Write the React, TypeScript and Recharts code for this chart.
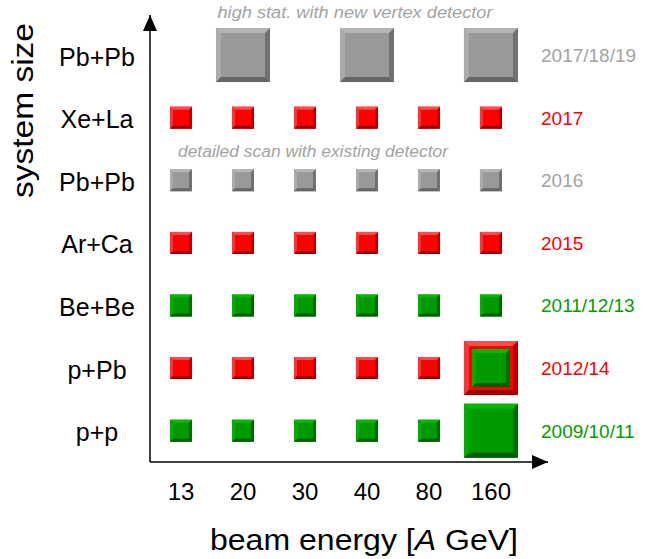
import { ScatterChart, Scatter, XAxis, YAxis, ReferenceDot, Customized } from 'recharts';

const energies = ['13', '20', '30', '40', '80', '160'];
const systems = ['p+p', 'p+Pb', 'Be+Be', 'Ar+Ca', 'Pb+Pb', 'Xe+La', 'Pb+Pb'];
const years = ['2009/10/11', '2012/14', '2011/12/13', '2015', '2016', '2017', '2017/18/19'];
const rowColors = ['green', 'red', 'green', 'red', 'gray', 'red', 'gray'];

// energies taken per system (row order = systems)
const smallRuns = [
  ['13', '20', '30', '40', '80'],
  ['13', '20', '30', '40', '80'],
  ['13', '20', '30', '40', '80', '160'],
  ['13', '20', '30', '40', '80', '160'],
  ['13', '20', '30', '40', '80', '160'],
  ['13', '20', '30', '40', '80', '160'],
  [],
];
const largeRuns = [['160'], ['160'], [], [], [], [], ['20', '40', '160']];
const innerRuns = [[], ['160'], [], [], [], [], []];

const palette: Record<string, any> = {
  red: { base: '#ff0000', top: '#ff4d4d', left: '#ff3333', right: '#b30000', bottom: '#9e0000', text: '#ff0000' },
  green: { base: '#009900', top: '#00b800', left: '#00ad00', right: '#006b00', bottom: '#005c00', text: '#009c00' },
  gray: { base: '#999999', top: '#b5b5b5', left: '#ababab', right: '#717171', bottom: '#666666', text: '#a3a3a3' },
};

const sizes: Record<string, [number, number]> = { small: [22, 3], large: [54, 5], inner: [38, 4] };

const toPoints = (runs: string[][], kind: string) =>
  runs.flatMap((list, row) =>
    list.map((e) => ({ x: energies.indexOf(e), y: row, kind, color: kind === 'inner' ? 'green' : rowColors[row] })));

const smallData = toPoints(smallRuns, 'small');
const largeData = toPoints(largeRuns, 'large');
const innerData = toPoints(innerRuns, 'inner');

const font = "'Liberation Sans', Arial, sans-serif";

function BevelSquare(props: any) {
  const { cx, cy, payload } = props;
  const [s, b] = sizes[payload.kind];
  const c = palette[payload.color];
  const x0 = cx - s / 2, y0 = cy - s / 2, x1 = cx + s / 2, y1 = cy + s / 2;
  return (
    <g>
      <rect x={x0} y={y0} width={s} height={s} fill={c.base} />
      <polygon points={`${x0},${y0} ${x1},${y0} ${x1 - b},${y0 + b} ${x0 + b},${y0 + b}`} fill={c.top} />
      <polygon points={`${x0},${y0} ${x0 + b},${y0 + b} ${x0 + b},${y1 - b} ${x0},${y1}`} fill={c.left} />
      <polygon points={`${x1},${y0} ${x1},${y1} ${x1 - b},${y1 - b} ${x1 - b},${y0 + b}`} fill={c.right} />
      <polygon points={`${x0},${y1} ${x1},${y1} ${x1 - b},${y1 - b} ${x0 + b},${y1 - b}`} fill={c.bottom} />
    </g>
  );
}

const EnergyTick = ({ x, y, payload }: any) => (
  <text x={x} y={y + 36} textAnchor="middle" fontSize={24} fontFamily={font} fill="#000">
    {energies[payload.value]}
  </text>
);

const SystemTick = ({ y, payload }: any) => (
  <text x={97} y={y + 10.5} textAnchor="middle" fontSize={25} fontFamily={font} fill="#000">
    {systems[payload.value]}
  </text>
);

const YearTick = ({ y, payload }: any) => (
  <text x={541} y={y + 7} textAnchor="start" fontSize={19} fontFamily={font}
    fill={palette[rowColors[payload.value]].text}>
    {years[payload.value]}
  </text>
);

const Titles = () => (
  <g fontFamily={font}>
    <text x={355} y={18} textAnchor="middle" fontSize={16} fontStyle="italic" fill="#a3a3a3"
      textLength={275} lengthAdjust="spacingAndGlyphs">
      high stat. with new vertex detector
    </text>
    <text x={313} y={157} textAnchor="middle" fontSize={16} fontStyle="italic" fill="#a3a3a3"
      textLength={270} lengthAdjust="spacingAndGlyphs">
      detailed scan with existing detector
    </text>
    <text x={210} y={550} fontSize={30} fill="#000" textLength={308} lengthAdjust="spacingAndGlyphs">
      beam energy [<tspan fontStyle="italic">A</tspan> GeV]
    </text>
    <text x={33} y={110.5} textAnchor="middle" fontSize={29} fill="#000" transform="rotate(-90, 33, 110.5)"
      textLength={175} lengthAdjust="spacingAndGlyphs">
      system size
    </text>
  </g>
);

const ArrowUp = ({ cx, cy }: any) => (
  <polygon points={`${cx},${cy} ${cx - 7},${cy + 16} ${cx + 7},${cy + 16}`} fill="#000" />
);
const ArrowRight = ({ cx, cy }: any) => (
  <polygon points={`${cx},${cy} ${cx - 16},${cy - 7} ${cx - 16},${cy + 7}`} fill="#000" />
);

const xMax = 5.92;
const yMax = 6.64;

export default function App() {
  return (
    <div style={{ position: 'absolute', left: 0, top: 0, background: '#fff' }}>
      <ScatterChart width={647} height={559} margin={{ top: 15, right: 0, bottom: 0, left: 0 }}>
        <XAxis type="number" dataKey="x" domain={[-0.5, xMax]} ticks={[0, 1, 2, 3, 4, 5]} interval={0}
          allowDataOverflow height={97} tick={<EnergyTick />} tickLine={false} tickSize={0}
          axisLine={{ stroke: '#000', strokeWidth: 1.5 }} />
        <YAxis type="number" dataKey="y" domain={[-0.5, yMax]} ticks={[0, 1, 2, 3, 4, 5, 6]} interval={0}
          allowDataOverflow width={150} tick={<SystemTick />} tickLine={false} tickSize={0}
          axisLine={{ stroke: '#000', strokeWidth: 1.5 }} />
        <YAxis yAxisId="year" orientation="right" type="number" domain={[-0.5, yMax]}
          ticks={[0, 1, 2, 3, 4, 5, 6]} interval={0} allowDataOverflow width={99}
          tick={<YearTick />} tickLine={false} axisLine={false} tickSize={0} />
        <Scatter data={largeData} shape={<BevelSquare />} isAnimationActive={false} />
        <Scatter data={innerData} shape={<BevelSquare />} isAnimationActive={false} />
        <Scatter data={smallData} shape={<BevelSquare />} isAnimationActive={false} />
        <ReferenceDot x={-0.5} y={yMax} r={0} ifOverflow="visible" shape={<ArrowUp />} />
        <ReferenceDot x={xMax} y={-0.5} r={0} ifOverflow="visible" shape={<ArrowRight />} />
        <Customized component={Titles} />
      </ScatterChart>
    </div>
  );
}
